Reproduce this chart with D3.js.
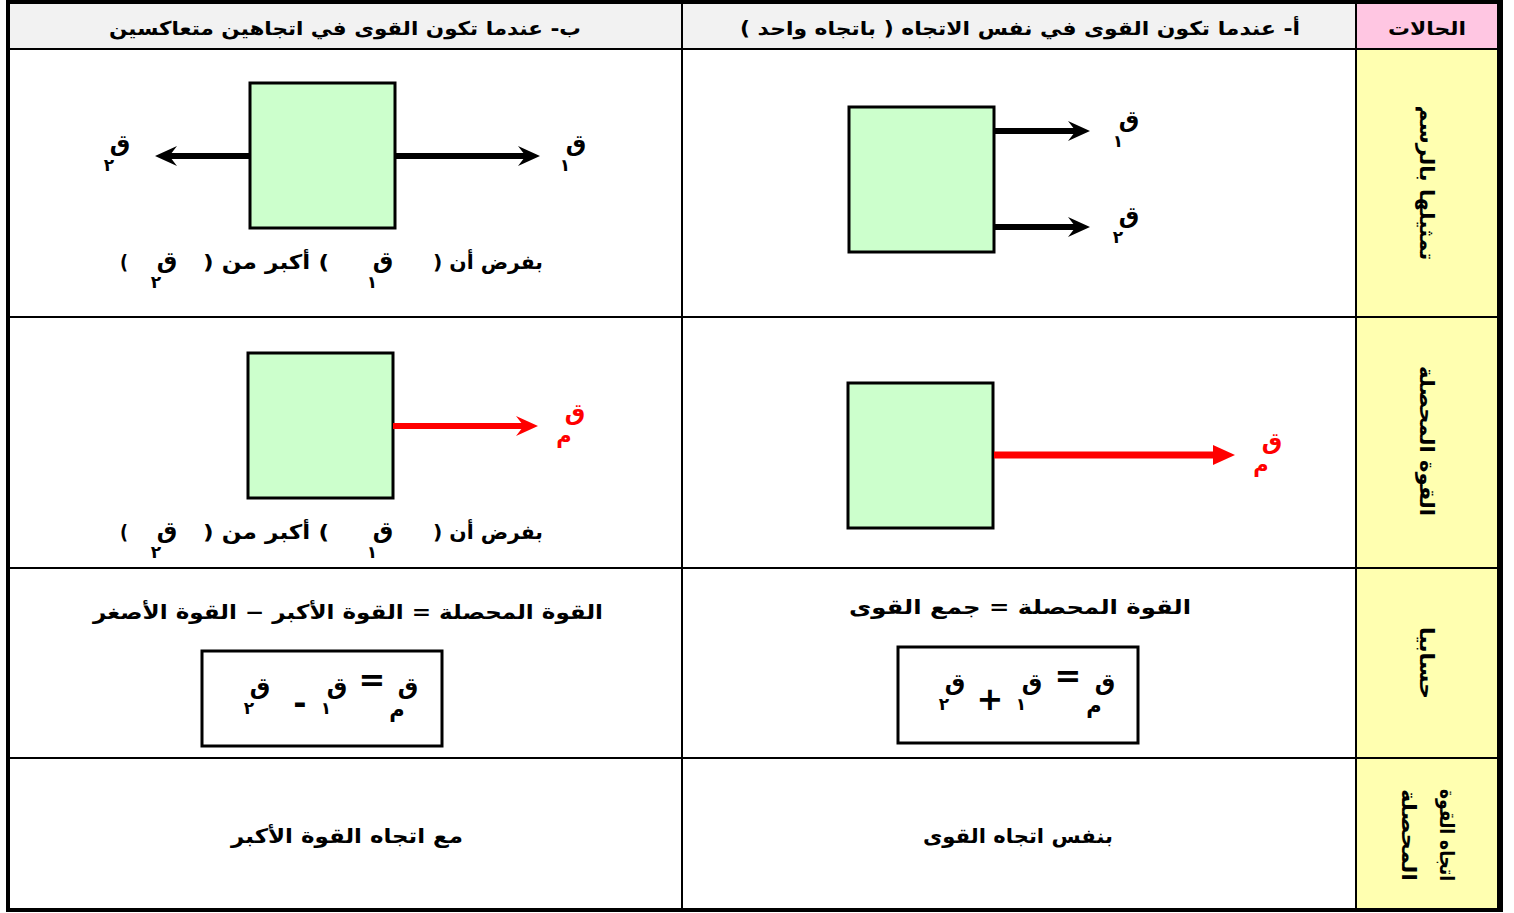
<!DOCTYPE html>
<html>
<head>
<meta charset="utf-8">
<script src="https://cdn.jsdelivr.net/npm/d3@7"></script>
<style>
  body { margin: 0; background: #fff; }
  text { font-family: "DejaVu Sans", sans-serif; font-weight: bold; }
</style>
</head>
<body>
<svg width="1514" height="913"></svg>
<script>
// ---- Data (texts of the table) ----
const columns = ["opposite", "same", "cases"];
const headerTexts = ["ب- عندما تكون القوى في اتجاهين متعاكسين", "أ- عندما تكون القوى في نفس الاتجاه ( باتجاه واحد )", "الحالات"];
const rows = ["draw", "result", "calc", "direction"];
const rowLabels = [["تمثيلها بالرسم"], ["القوة المحصلة"], ["حسابيا"], ["اتجاه القوة", "المحصلة"]];
const formulaTexts = ["القوة المحصلة = القوة الأكبر − القوة الأصغر", "القوة المحصلة = جمع القوى"];
const directionTexts = ["مع اتجاه القوة الأكبر", "بنفس اتجاه القوى"];
const assumeParts = ["بفرض أن (", ") أكبر من (", ")"];
const forceSymbol = "ق";
const sameForces = ["١", "٢"];         // two forces, same direction
const oppositeForces = ["١", "٢"];     // q1 to the right, q2 to the left
const resultSub = "م";
const sumOps = ["=", "+"];
const diffOps = ["=", "-"];

// ---- Layout ----
const svg = d3.select("svg");
const W = 1514, H = 913;

const x = d3.scaleOrdinal().domain(columns).range([10, 682, 1356]);
const colW = d3.scaleOrdinal().domain(columns).range([672, 674, 143]);
const y = d3.scaleOrdinal().domain(["head"].concat(rows)).range([4, 49, 317, 568, 758]);
const rowH = d3.scaleOrdinal().domain(["head"].concat(rows)).range([45, 268, 251, 190, 152]);

// backgrounds
svg.append("rect").attr("width", W).attr("height", H).attr("fill", "#fff");
svg.selectAll("rect.head").data(columns).enter().append("rect")
  .attr("class", "head")
  .attr("x", d => x(d)).attr("y", y("head"))
  .attr("width", d => colW(d)).attr("height", rowH("head"))
  .attr("fill", d => d === "cases" ? "#ffc6e2" : "#f2f2f2");
svg.selectAll("rect.side").data(rows).enter().append("rect")
  .attr("class", "side")
  .attr("x", x("cases")).attr("y", d => y(d))
  .attr("width", colW("cases")).attr("height", d => rowH(d))
  .attr("fill", "#ffffb0");

// grid lines
const grid = svg.append("g").attr("stroke", "#000");
rows.forEach(r => {
  grid.append("line").attr("x1", 10).attr("x2", 1499)
    .attr("y1", y(r)).attr("y2", y(r)).attr("stroke-width", 2);
});
["same", "cases"].forEach(c => {
  grid.append("line").attr("x1", x(c)).attr("x2", x(c))
    .attr("y1", 4).attr("y2", 910).attr("stroke-width", 2);
});
// outer frame
grid.append("rect").attr("x", 8).attr("y", 2).attr("width", 1492).attr("height", 908)
  .attr("fill", "none").attr("stroke-width", 4);
grid.append("line").attr("x1", 1500).attr("x2", 1500).attr("y1", 0).attr("y2", 912)
  .attr("stroke-width", 6);

// helper: centred text with forced width
function label(g, str, cx, cy, size, width, color) {
  const t = g.append("text")
    .attr("x", cx).attr("y", cy)
    .attr("text-anchor", "middle")
    .attr("dominant-baseline", "central")
    .attr("direction", "rtl")
    .attr("font-size", size)
    .attr("fill", color || "#000")
    .text(str);
  if (width) t.attr("textLength", width).attr("lengthAdjust", "spacingAndGlyphs");
  return t;
}

// header texts
const head = svg.append("g");
label(head, headerTexts[0], 345, 28, 19, 472);
label(head, headerTexts[1], 1020, 28, 19, 560);
label(head, headerTexts[2], 1427, 28, 19, 78);

// vertical labels in the cases column
const side = svg.append("g");
const sideCentre = [183, 441, 663, 835];
const sideLens = [[155], [150], [72], [92, 92]];
rows.forEach((r, i) => {
  const lines = rowLabels[i];
  lines.forEach((s, j) => {
    const cx = lines.length === 1 ? 1427 : 1447 - j * 38;
    const g = side.append("g").attr("transform", `translate(${cx},${sideCentre[i]}) rotate(90)`);
    label(g, s, 0, 0, 20, sideLens[i][j]);
  });
});

// force symbol with subscript
function force(g, cx, cy, sub, color) {
  label(g, forceSymbol, cx, cy, 23, null, color);
  if (sub === resultSub) label(g, sub, cx - 11, cy + 24, 21, null, color);
  else label(g, sub, cx - 11, cy + 22, 17, null, color);
}

// green block
function block(g, bx, by) {
  g.append("rect").attr("x", bx).attr("y", by).attr("width", 145).attr("height", 145)
    .attr("fill", "#ccffcc").attr("stroke", "#000").attr("stroke-width", 3);
}

// arrow from (x1,y0) to (x2,y0)
function arrow(g, x1, x2, y0, color, width, notch) {
  const dir = x2 > x1 ? 1 : -1;
  const L = 22, Hh = 10;
  g.append("line").attr("x1", x1).attr("x2", x2 - dir * L * 0.6)
    .attr("y1", y0).attr("y2", y0).attr("stroke", color).attr("stroke-width", width);
  const n = notch ? L * 0.65 : L;
  g.append("path")
    .attr("d", `M${x2},${y0} L${x2 - dir * L},${y0 - Hh} L${x2 - dir * n},${y0} L${x2 - dir * L},${y0 + Hh} Z`)
    .attr("fill", color);
}

const diagrams = svg.append("g");

// same direction, drawing
block(diagrams, 849, 107);
const yForce = d3.scalePoint().domain(sameForces).range([131, 227]);
sameForces.forEach(f => {
  arrow(diagrams, 995, 1090, yForce(f), "#000", 6, true);
  force(diagrams, 1129, yForce(f) - 12, f);
});

// opposite direction, drawing
block(diagrams, 250, 83);
const dirX = d3.scaleOrdinal().domain(oppositeForces).range([[395, 540], [250, 155]]);
const labX = d3.scaleOrdinal().domain(oppositeForces).range([576, 120]);
oppositeForces.forEach(f => {
  arrow(diagrams, dirX(f)[0], dirX(f)[1], 156, "#000", 6, true);
  force(diagrams, labX(f), 143, f);
});

// assumption sentence
function assume(g, cy) {
  label(g, assumeParts[0], 488, cy, 20, 110);
  force(g, 383, cy - 2, oppositeForces[0]);
  label(g, assumeParts[1], 266, cy, 20, 126);
  force(g, 167, cy - 2, oppositeForces[1]);
  label(g, assumeParts[2], 124, cy, 20, 8);
}
assume(diagrams, 262);

// resultant, same direction
block(diagrams, 848, 383);
arrow(diagrams, 994, 1235, 455, "#ff0000", 7, false);
force(diagrams, 1272, 441, resultSub, "#ff0000");

// resultant, opposite direction
block(diagrams, 248, 353);
arrow(diagrams, 393, 538, 426, "#ff0000", 6, true);
force(diagrams, 575, 412, resultSub, "#ff0000");
assume(diagrams, 532);

// calculation row
const calc = svg.append("g");
label(calc, formulaTexts[1], 1020, 607, 20, 342);
label(calc, formulaTexts[0], 348, 612, 20, 510);
calc.append("rect").attr("x", 898).attr("y", 647).attr("width", 240).attr("height", 96)
  .attr("fill", "none").attr("stroke", "#000").attr("stroke-width", 3);
calc.append("rect").attr("x", 202).attr("y", 651).attr("width", 240).attr("height", 95)
  .attr("fill", "none").attr("stroke", "#000").attr("stroke-width", 3);

function equation(g, xs, cy, ops) {
  // xs: positions of q_m, op1, q1, op2, q2
  force(g, xs[0], cy, resultSub);
  label(g, ops[0], xs[1], cy - 6, 32);
  force(g, xs[2], cy, sameForces[0]);
  label(g, ops[1], xs[3], cy + 17, 32);
  force(g, xs[4], cy, sameForces[1]);
}
equation(calc, [1105, 1068, 1032, 990, 955], 682, sumOps);
equation(calc, [408, 372, 337, 300, 260], 686, diffOps);

// direction row
const dirRow = svg.append("g");
label(dirRow, directionTexts[1], 1018, 836, 20, 190);
label(dirRow, directionTexts[0], 347, 836, 20, 232);
</script>
</body>
</html>
